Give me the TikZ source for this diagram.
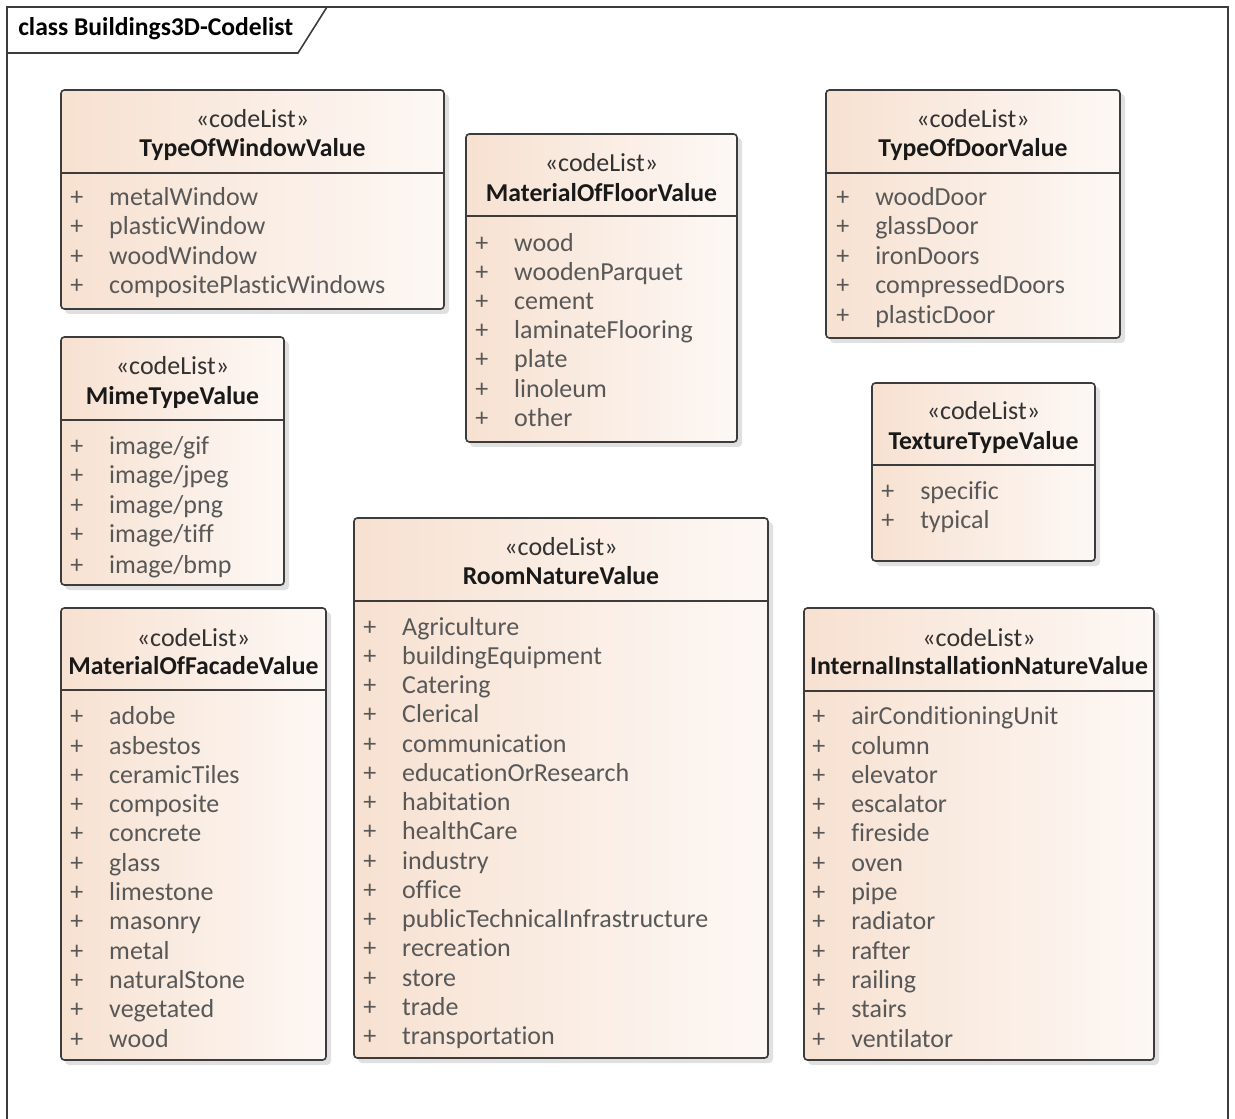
\documentclass[tikz,border=0pt]{standalone}
\usepackage{fontspec}
\setmainfont{Carlito}[Ligatures=NoCommon]
\usepackage{tikz}

\definecolor{peachL}{RGB}{247,225,209}
\definecolor{peachR}{RGB}{253,248,245}
\definecolor{itemgray}{RGB}{88,88,88}
\definecolor{edgegray}{RGB}{60,60,60}
\newcommand{\attrplus}{\makebox[29.25pt][l]{+}}

\tikzset{
  boxshade/.style={draw=edgegray, line width=1.2, rounded corners=2.5, left color=peachL, right color=peachR},
  boxshadow/.style={fill=black!12, rounded corners=3},
  stereo/.style={anchor=base, yshift=-6.75pt, inner sep=0pt, text=black!80, font=\fontsize{19.5}{19.5}\selectfont},
  cname/.style={anchor=base, yshift=-6.75pt, inner sep=0pt, text=black!90, font=\bfseries\fontsize{19.3}{19.3}\selectfont},
  attr/.style={anchor=base west, yshift=-6.75pt, inner sep=0pt, text=itemgray, font=\fontsize{19.5}{19.5}\selectfont},
}

\begin{document}
\begin{tikzpicture}[x=0.75pt,y=0.75pt,yscale=-1,xscale=1]
    \useasboundingbox (0,0) rectangle (1235,1119);
    % frame
    \draw [line width=1.2, edgegray] (7,1125) -- (7,7) -- (1228,7) -- (1228,1125);
    \draw [line width=1.2, edgegray] (7,53) -- (298,53) -- (327,7);
    \node [anchor=base west, inner sep=0pt, font=\bfseries\fontsize{19.2}{19.2}\selectfont] (frametitle) at (18,36) {class Buildings3D-Codelist};

    % TypeOfWindowValue
    \fill [boxshadow] (65,94) rectangle (449,314);
    \draw [boxshade] (61,90) rectangle (444,309);
    \draw [line width=1.2, edgegray] (61,173) -- (444,173);
    \node [stereo] (win-st) at (252.5,119) {«codeList»};
    \node [cname] (win) at (252.5,148) {TypeOfWindowValue};
    \node [attr] (win-1) at (70,197) {\attrplus metalWindow};
    \node [attr] (win-2) at (70,226) {\attrplus plasticWindow};
    \node [attr] (win-3) at (70,256) {\attrplus woodWindow};
    \node [attr] (win-4) at (70,285) {\attrplus compositePlasticWindows};

    % MaterialOfFloorValue
    \fill [boxshadow] (470,138) rectangle (742,447);
    \draw [boxshade] (466,134) rectangle (737,442);
    \draw [line width=1.2, edgegray] (466,216) -- (737,216);
    \node [stereo] (floor-st) at (601.5,163) {«codeList»};
    \node [cname] (floor) at (601.5,193) {MaterialOfFloorValue};
    \node [attr] (floor-1) at (475,243) {\attrplus wood};
    \node [attr] (floor-2) at (475,272) {\attrplus woodenParquet};
    \node [attr] (floor-3) at (475,301) {\attrplus cement};
    \node [attr] (floor-4) at (475,330) {\attrplus laminateFlooring};
    \node [attr] (floor-5) at (475,359) {\attrplus plate};
    \node [attr] (floor-6) at (475,389) {\attrplus linoleum};
    \node [attr] (floor-7) at (475,418) {\attrplus other};

    % TypeOfDoorValue
    \fill [boxshadow] (830,94) rectangle (1125,343);
    \draw [boxshade] (826,90) rectangle (1120,338);
    \draw [line width=1.2, edgegray] (826,173) -- (1120,173);
    \node [stereo] (door-st) at (973,119) {«codeList»};
    \node [cname] (door) at (973,148) {TypeOfDoorValue};
    \node [attr] (door-1) at (836,197) {\attrplus woodDoor};
    \node [attr] (door-2) at (836,226) {\attrplus glassDoor};
    \node [attr] (door-3) at (836,256) {\attrplus ironDoors};
    \node [attr] (door-4) at (836,285) {\attrplus compressedDoors};
    \node [attr] (door-5) at (836,315) {\attrplus plasticDoor};

    % MimeTypeValue
    \fill [boxshadow] (65,341) rectangle (289,590);
    \draw [boxshade] (61,337) rectangle (284,585);
    \draw [line width=1.2, edgegray] (61,420) -- (284,420);
    \node [stereo] (mime-st) at (172.5,366) {«codeList»};
    \node [cname] (mime) at (172.5,396) {MimeTypeValue};
    \node [attr] (mime-1) at (70,446) {\attrplus image/gif};
    \node [attr] (mime-2) at (70,475) {\attrplus image/jpeg};
    \node [attr] (mime-3) at (70,504) {\attrplus image/png};
    \node [attr] (mime-4) at (70,533) {\attrplus image/tiff};
    \node [attr] (mime-5) at (70,564) {\attrplus image/bmp};

    % TextureTypeValue
    \fill [boxshadow] (876,387) rectangle (1100,566);
    \draw [boxshade] (872,383) rectangle (1095,561);
    \draw [line width=1.2, edgegray] (872,465) -- (1095,465);
    \node [stereo] (tex-st) at (983.5,411) {«codeList»};
    \node [cname] (tex) at (983.5,441) {TextureTypeValue};
    \node [attr] (tex-1) at (881,490) {\attrplus specific};
    \node [attr] (tex-2) at (881,519) {\attrplus typical};

    % RoomNatureValue
    \fill [boxshadow] (358,522) rectangle (773,1063);
    \draw [boxshade] (354,518) rectangle (768,1058);
    \draw [line width=1.2, edgegray] (354,601) -- (768,601);
    \node [stereo] (room-st) at (561,547) {«codeList»};
    \node [cname] (room) at (561,576) {RoomNatureValue};
    \node [attr] (room-1) at (363,626) {\attrplus Agriculture};
    \node [attr] (room-2) at (363,655) {\attrplus buildingEquipment};
    \node [attr] (room-3) at (363,684) {\attrplus Catering};
    \node [attr] (room-4) at (363,713) {\attrplus Clerical};
    \node [attr] (room-5) at (363,743) {\attrplus communication};
    \node [attr] (room-6) at (363,772) {\attrplus educationOrResearch};
    \node [attr] (room-7) at (363,801) {\attrplus habitation};
    \node [attr] (room-8) at (363,830) {\attrplus healthCare};
    \node [attr] (room-9) at (363,860) {\attrplus industry};
    \node [attr] (room-10) at (363,889) {\attrplus office};
    \node [attr] (room-11) at (363,918) {\attrplus publicTechnicalInfrastructure};
    \node [attr] (room-12) at (363,947) {\attrplus recreation};
    \node [attr] (room-13) at (363,977) {\attrplus store};
    \node [attr] (room-14) at (363,1006) {\attrplus trade};
    \node [attr] (room-15) at (363,1035) {\attrplus transportation};

    % MaterialOfFacadeValue
    \fill [boxshadow] (65,612) rectangle (331,1065);
    \draw [boxshade] (61,608) rectangle (326,1060);
    \draw [line width=1.2, edgegray] (61,690) -- (326,690);
    \node [stereo] (fac-st) at (193.5,637) {«codeList»};
    \node [cname] (fac) at (193.5,665) {MaterialOfFacadeValue};
    \node [attr] (fac-1) at (70,715) {\attrplus adobe};
    \node [attr] (fac-2) at (70,745) {\attrplus asbestos};
    \node [attr] (fac-3) at (70,774) {\attrplus ceramicTiles};
    \node [attr] (fac-4) at (70,803) {\attrplus composite};
    \node [attr] (fac-5) at (70,832) {\attrplus concrete};
    \node [attr] (fac-6) at (70,862) {\attrplus glass};
    \node [attr] (fac-7) at (70,891) {\attrplus limestone};
    \node [attr] (fac-8) at (70,920) {\attrplus masonry};
    \node [attr] (fac-9) at (70,950) {\attrplus metal};
    \node [attr] (fac-10) at (70,979) {\attrplus naturalStone};
    \node [attr] (fac-11) at (70,1008) {\attrplus vegetated};
    \node [attr] (fac-12) at (70,1038) {\attrplus wood};

    % InternalInstallationNatureValue
    \fill [boxshadow] (808,612) rectangle (1159,1065);
    \draw [boxshade] (804,608) rectangle (1154,1060);
    \draw [line width=1.2, edgegray] (804,691) -- (1154,691);
    \node [stereo] (inst-st) at (979,637) {«codeList»};
    \node [cname] (inst) at (979,665) {InternalInstallationNatureValue};
    \node [attr] (inst-1) at (812,715) {\attrplus airConditioningUnit};
    \node [attr] (inst-2) at (812,745) {\attrplus column};
    \node [attr] (inst-3) at (812,774) {\attrplus elevator};
    \node [attr] (inst-4) at (812,803) {\attrplus escalator};
    \node [attr] (inst-5) at (812,832) {\attrplus fireside};
    \node [attr] (inst-6) at (812,862) {\attrplus oven};
    \node [attr] (inst-7) at (812,891) {\attrplus pipe};
    \node [attr] (inst-8) at (812,920) {\attrplus radiator};
    \node [attr] (inst-9) at (812,950) {\attrplus rafter};
    \node [attr] (inst-10) at (812,979) {\attrplus railing};
    \node [attr] (inst-11) at (812,1008) {\attrplus stairs};
    \node [attr] (inst-12) at (812,1038) {\attrplus ventilator};
\end{tikzpicture}
\end{document}
